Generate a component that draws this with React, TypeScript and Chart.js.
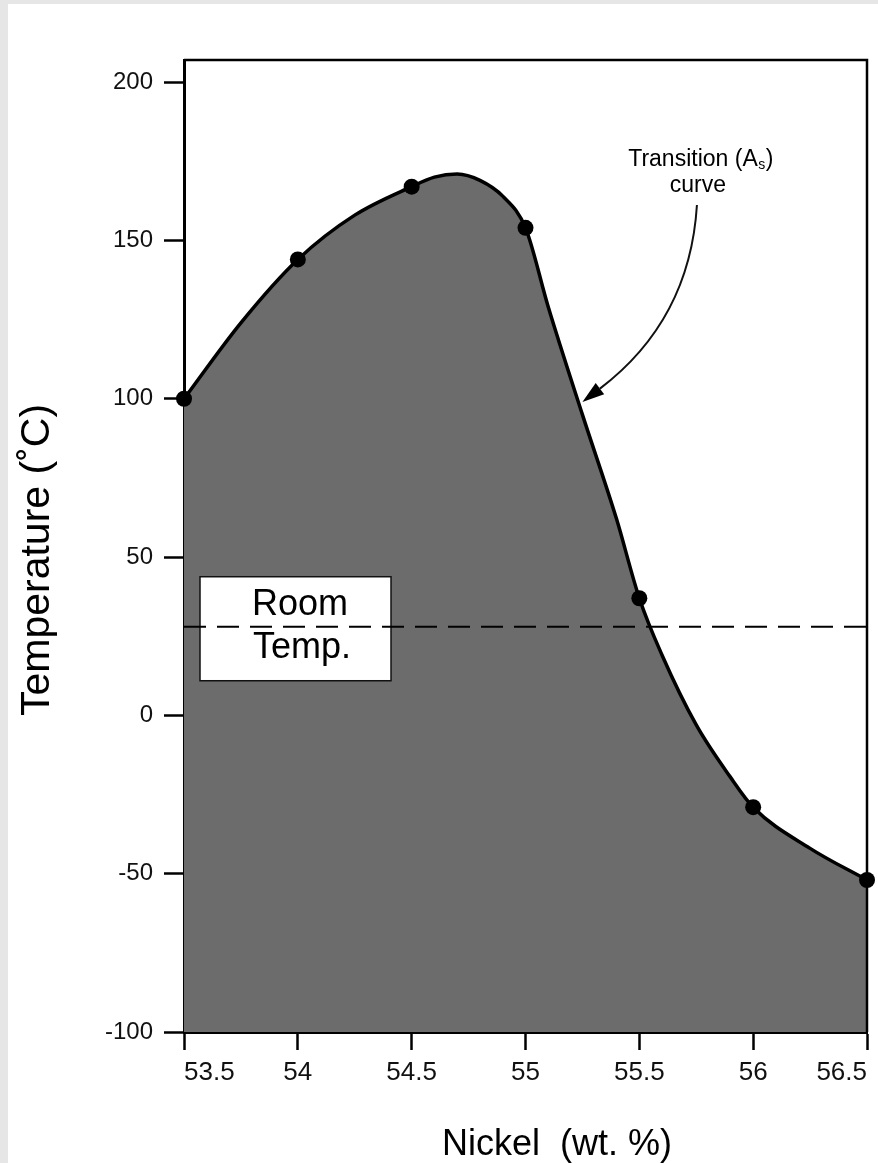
import React, { useEffect, useRef } from "react";
import { Chart, registerables } from "chart.js";

Chart.register(...registerables);

// ---- measured points (black dots) ----
const NICKEL_WT = [53.5, 54, 54.5, 55, 55.5, 56, 56.5];
const AS_TEMP_C = [100, 144, 167, 154, 37, -29, -52];

// ---- the drawn transition (As) curve ----
const CURVE_NI = [53.5, 53.75, 54, 54.25, 54.5, 54.6, 54.7, 54.8, 54.9, 55, 55.1, 55.25, 55.4, 55.5, 55.6, 55.75, 55.9, 56, 56.25, 56.5];
const CURVE_T = [100, 124, 144, 158, 167, 170, 171, 169, 164, 154, 129, 95, 62, 37, 19, -3, -19.5, -29, -42, -52];

const ROOM_TEMP_C = 28;
const X_TICKS = [53.5, 54, 54.5, 55, 55.5, 56, 56.5];
const Y_TICKS = [-100, -50, 0, 50, 100, 150, 200];
const X_RANGE = [53.5, 56.5];
const Y_RANGE = [-100, 207];

const X_TITLE = "Nickel  (wt. %)";
const Y_TITLE = "Temperature (˚C)";
const ROOM_LABEL = ["Room", "Temp."];
const NOTE_LINE1 = ["Transition (A", "s", ")"];
const NOTE_LINE2 = "curve";

// annotation anchors (data space)
const NOTE_TEXT = { x: 55.77, y1: 175.6, y2: 167.2 };
const NOTE_ARROW = {
  start: { x: 55.753, y: 161.2 },
  ctrl: { x: 55.722, y: 124.8 },
  tip: { x: 55.25, y: 99 },
};

const FONT = '"Liberation Sans", Arial, Helvetica, sans-serif';
const FILL = "#6c6c6c";
const PAGE_EDGE = "#e6e6e6";

const decor = {
  id: "decor",
  beforeDraw(chart: any) {
    const { ctx, width, height } = chart;
    ctx.save();
    ctx.fillStyle = "#fff";
    ctx.fillRect(0, 0, width, height);
    ctx.fillStyle = PAGE_EDGE;
    ctx.fillRect(0, 0, 8, height);
    ctx.fillRect(0, 0, width, 4);
    ctx.restore();
  },
  afterDatasetDraw(chart: any, args: any) {
    if (args.index !== 0) return;
    const { ctx, chartArea: a, scales } = chart;
    const ly = scales.y.getPixelForValue(ROOM_TEMP_C);
    ctx.save();
    const bx = a.left + 16;
    const bw = 191;
    const by = ly - 50;
    const bh = 104;
    ctx.fillStyle = "#fff";
    ctx.fillRect(bx, by, bw, bh);
    ctx.strokeStyle = "#111";
    ctx.lineWidth = 1.5;
    ctx.strokeRect(bx, by, bw, bh);
    ctx.fillStyle = "#000";
    ctx.font = `36px ${FONT}`;
    ctx.textAlign = "center";
    ctx.textBaseline = "alphabetic";
    ctx.fillText(ROOM_LABEL[0], a.left + 116, ly - 12);
    ctx.fillText(ROOM_LABEL[1], a.left + 118, ly + 31);
    ctx.restore();
  },
  afterDraw(chart: any) {
    const { ctx, chartArea: a, scales, height } = chart;
    const xs = scales.x;
    const ys = scales.y;
    ctx.save();
    // frame top & right
    ctx.strokeStyle = "#000";
    ctx.lineWidth = 2.5;
    ctx.beginPath();
    ctx.moveTo(a.left, a.top);
    ctx.lineTo(a.right, a.top);
    ctx.lineTo(a.right, a.bottom);
    ctx.stroke();

    // axis titles
    ctx.fillStyle = "#000";
    ctx.textAlign = "center";
    ctx.textBaseline = "alphabetic";
    ctx.font = `36px ${FONT}`;
    ctx.fillText(X_TITLE, a.left + 373, height - 8);
    ctx.save();
    ctx.translate(49, a.top + 500);
    ctx.rotate(-Math.PI / 2);
    ctx.font = `41px ${FONT}`;
    ctx.fillText(Y_TITLE, 0, 0);
    ctx.restore();

    // annotation text
    const cx = xs.getPixelForValue(NOTE_TEXT.x);
    const y1 = ys.getPixelForValue(NOTE_TEXT.y1);
    const y2 = ys.getPixelForValue(NOTE_TEXT.y2);
    ctx.textBaseline = "middle";
    ctx.textAlign = "left";
    ctx.font = `23px ${FONT}`;
    const w1 = ctx.measureText(NOTE_LINE1[0]).width;
    const w3 = ctx.measureText(NOTE_LINE1[2]).width;
    ctx.font = `14px ${FONT}`;
    const w2 = ctx.measureText(NOTE_LINE1[1]).width;
    const sx = cx - (w1 + w2 + w3 + 1) / 2;
    ctx.font = `23px ${FONT}`;
    ctx.fillText(NOTE_LINE1[0], sx, y1);
    ctx.font = `14px ${FONT}`;
    ctx.fillText(NOTE_LINE1[1], sx + w1 + 0.5, y1 + 6);
    ctx.font = `23px ${FONT}`;
    ctx.fillText(NOTE_LINE1[2], sx + w1 + w2 + 1, y1);
    ctx.textAlign = "center";
    ctx.fillText(NOTE_LINE2, cx - 3, y2);

    // arrow
    const p0 = { x: xs.getPixelForValue(NOTE_ARROW.start.x), y: ys.getPixelForValue(NOTE_ARROW.start.y) };
    const pc = { x: xs.getPixelForValue(NOTE_ARROW.ctrl.x), y: ys.getPixelForValue(NOTE_ARROW.ctrl.y) };
    const pt = { x: xs.getPixelForValue(NOTE_ARROW.tip.x), y: ys.getPixelForValue(NOTE_ARROW.tip.y) };
    let dx = pt.x - pc.x;
    let dy = pt.y - pc.y;
    const len = Math.hypot(dx, dy) || 1;
    dx /= len;
    dy /= len;
    const headL = 22;
    const headW = 7;
    const base = { x: pt.x - dx * headL, y: pt.y - dy * headL };
    ctx.lineWidth = 2;
    ctx.strokeStyle = "#111";
    ctx.beginPath();
    ctx.moveTo(p0.x, p0.y);
    ctx.quadraticCurveTo(pc.x, pc.y, base.x, base.y);
    ctx.stroke();
    ctx.fillStyle = "#000";
    ctx.beginPath();
    ctx.moveTo(pt.x, pt.y);
    ctx.lineTo(base.x - dy * headW, base.y + dx * headW);
    ctx.lineTo(base.x + dy * headW, base.y - dx * headW);
    ctx.closePath();
    ctx.fill();
    ctx.restore();
  },
};

export default function App() {
  const ref = useRef<HTMLCanvasElement>(null);
  useEffect(() => {
    const canvas = ref.current;
    if (!canvas) return;
    const chart = new Chart(canvas, {
      type: "line",
      data: {
        datasets: [
          {
            label: "Transition (As) curve",
            data: CURVE_NI.map((x, i) => ({ x, y: CURVE_T[i] })),
            borderColor: "#000",
            borderWidth: 3.5,
            backgroundColor: FILL,
            fill: "start",
            cubicInterpolationMode: "monotone",
            pointRadius: 0,
            pointHoverRadius: 0,
            order: 2,
          } as any,
          {
            label: "Measured As",
            data: NICKEL_WT.map((x, i) => ({ x, y: AS_TEMP_C[i] })),
            showLine: false,
            pointRadius: 8,
            pointHoverRadius: 8,
            pointBackgroundColor: "#000",
            pointBorderWidth: 0,
            fill: false,
            clip: false,
            order: 1,
          } as any,
          {
            label: "Room Temp.",
            data: X_RANGE.map((x) => ({ x, y: ROOM_TEMP_C })),
            borderColor: "#000",
            borderWidth: 2,
            borderDash: [22, 11],
            pointRadius: 0,
            fill: false,
            order: 0,
          } as any,
        ],
      },
      options: {
        responsive: false,
        animation: false,
        devicePixelRatio: 1,
        layout: { padding: { top: 60, right: 11, bottom: 0, left: 0 } },
        plugins: { legend: { display: false }, tooltip: { enabled: false } },
        events: [],
        scales: {
          x: {
            type: "linear",
            min: X_RANGE[0],
            max: X_RANGE[1],
            afterBuildTicks: (s: any) => {
              s.ticks = X_TICKS.map((v) => ({ value: v }));
            },
            afterFit: (s: any) => {
              s.height = 131;
              s.paddingLeft = 0;
              s.paddingRight = 0;
            },
            ticks: {
              align: "inner",
              padding: 7,
              color: "#111",
              font: { family: FONT, size: 26 },
              maxRotation: 0,
              autoSkip: false,
              callback: (v: any) => String(v),
            },
            grid: { drawOnChartArea: false, tickLength: 18, tickWidth: 2.5, tickColor: "#000", color: "#000" },
            border: { display: true, color: "#000", width: 3 },
          },
          y: {
            type: "linear",
            min: Y_RANGE[0],
            max: Y_RANGE[1],
            afterBuildTicks: (s: any) => {
              s.ticks = Y_TICKS.map((v) => ({ value: v }));
            },
            afterFit: (s: any) => {
              s.width = 184;
            },
            ticks: {
              padding: 11,
              color: "#111",
              font: { family: FONT, size: 24 },
              autoSkip: false,
              callback: (v: any) => String(v),
            },
            grid: { drawOnChartArea: false, tickLength: 20, tickWidth: 2.5, tickColor: "#000", color: "#000" },
            border: { display: true, color: "#000", width: 3 },
          },
        },
      } as any,
      plugins: [decor],
    });
    return () => chart.destroy();
  }, []);
  return (
    <div style={{ position: "absolute", left: 0, top: 0, width: 878, height: 1163, overflow: "hidden" }}>
      <canvas ref={ref} width={878} height={1163} style={{ display: "block", width: 878, height: 1163 }} />
    </div>
  );
}
